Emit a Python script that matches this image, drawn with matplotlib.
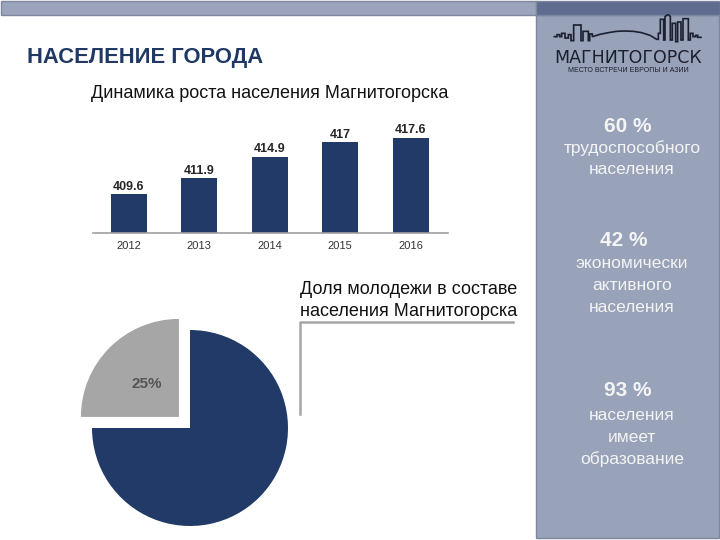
import matplotlib
matplotlib.use("Agg")
import matplotlib.pyplot as plt
from matplotlib.patches import Rectangle

plt.rcParams['font.family'] = ['Liberation Sans', 'DejaVu Sans']

# bar chart data
years = ['2012', '2013', '2014', '2015', '2016']
population = [409.6, 411.9, 414.9, 417, 417.6]

# pie data: youth share vs rest
youth_share = [25, 75]

# side panel stats
stat_values = ['60 %', '42 %', '93 %']
stat_labels = [['трудоспособного', 'населения'],
               ['экономически', 'активного', 'населения'],
               ['населения', 'имеет', 'образование']]

navy = '#213a67'
panel = '#98a2b8'
edge = '#7c869f'

fig = plt.figure(figsize=(7.2, 5.4), dpi=100)

# background layer in pixel coords
bg = fig.add_axes([0, 0, 1, 1])
bg.set_xlim(0, 720)
bg.set_ylim(540, 0)
bg.axis('off')

bg.add_patch(Rectangle((0.5, 0.5), 535, 14.5, fc='#9ba4ba', ec=edge, lw=1))
bg.add_patch(Rectangle((535.5, 15), 183, 523, fc=panel, ec=edge, lw=1))
bg.add_patch(Rectangle((535.5, 0.5), 184, 14.5, fc='#5f6c90', ec=edge, lw=1))

# logo skyline (local units, decoration)
sky = [(28, 80), (36, 80), (36, 74), (44, 74), (44, 80), (50, 80), (50, 70), (60, 70),
       (60, 84), (70, 84), (70, 74), (78, 74), (78, 92), (86, 92), (86, 45), (108, 45),
       (108, 92), (114, 92), (114, 64), (130, 64), (130, 92), (134, 92), (134, 72),
       (142, 72), (142, 80), (165, 73), (190, 68), (215, 64), (240, 63), (265, 64),
       (290, 68), (315, 76), (335, 88), (340, 88), (340, 70), (346, 70), (346, 28),
       (356, 28), (356, 90), (360, 90), (360, 20), (366, 15), (372, 15), (376, 20),
       (376, 90), (382, 90), (382, 40), (392, 40), (392, 95), (398, 95), (398, 36),
       (408, 36), (408, 90), (414, 90), (414, 26), (430, 26), (430, 90), (436, 90),
       (436, 70), (444, 70), (444, 80), (452, 80), (452, 76), (458, 76), (458, 82),
       (468, 82)]
bg.plot([545 + x / 3 for x, y in sky], [10 + y / 3 for x, y in sky],
        color='#1b1f2e', lw=1.2, solid_joinstyle='miter', zorder=5)
bg.text(628, 58, 'МАГНИТОГОРСК', ha='center', va='center', fontsize=12.5,
        family='DejaVu Sans', color='#1b1f2e')
bg.text(628, 71, 'МЕСТО ВСТРЕЧИ ЕВРОПЫ И АЗИИ', ha='center', va='center',
        fontsize=5, color='#1b1f2e')

# titles
bg.text(27, 57, 'НАСЕЛЕНИЕ ГОРОДА', ha='left', va='center', fontsize=15.8,
        fontweight='bold', color='#1f3864')
bg.text(270, 93, 'Динамика роста населения Магнитогорска', ha='center',
        va='center', fontsize=13, color='#111111')
bg.text(300, 289, 'Доля молодежи в составе', ha='left', va='center',
        fontsize=13, color='#111111')
bg.text(300, 311, 'населения Магнитогорска', ha='left', va='center',
        fontsize=13, color='#111111')
bg.plot([300, 300, 513], [414, 322, 322], color='#a6a6a6', lw=1.8)

# side panel stats
stat_y = [125, 240, 389]
stat_x = [628, 624, 628]
for val, lines, y0, x0 in zip(stat_values, stat_labels, stat_y, stat_x):
    bg.text(x0, y0 + 1, val, ha='center', va='center', fontsize=15,
            fontweight='bold', color='#f4f4f4')
    first = y0 + 23 if y0 < 300 else y0 + 26
    for i, ln in enumerate(lines):
        bg.text(632, first + 22 * i, ln, ha='center', va='center',
                fontsize=12.5, color='#f4f4f4')

# bar chart
ax = fig.add_axes([93 / 720, 1 - 233 / 540, 355 / 720, 115 / 540])
xs = range(len(years))
bars = ax.bar(xs, population, width=0.51, color=navy)
ax.set_xlim(-0.51, 4.53)
ax.set_ylim(404.1, 420.4)
for b, v in zip(bars, population):
    ax.annotate(f'{v:g}', (b.get_x() + b.get_width() / 2, v), xytext=(0, 1),
                textcoords='offset points', ha='center', va='bottom',
                fontsize=9, fontweight='bold', color='#262626')
ax.set_xticks(list(xs))
ax.set_xticklabels(years, fontsize=8, color='#333333')
ax.tick_params(axis='x', length=0, pad=6)
ax.set_yticks([])
for s in ['top', 'right', 'left']:
    ax.spines[s].set_visible(False)
ax.spines['bottom'].set_color('#a0a0a0')
ax.spines['bottom'].set_linewidth(1.2)
ax.patch.set_alpha(0)

# pie chart
r = 98
pax = fig.add_axes([(190 - 1.25 * r) / 720, 0, 2.5 * r / 720, (540 - 428 + 1.25 * r) / 540])
pax.pie(youth_share, colors=['#a6a6a6', navy], startangle=90, counterclock=True,
        explode=[0.16, 0], autopct=lambda p: f'{p:.0f}%' if p < 50 else '',
        pctdistance=0.47, textprops=dict(fontsize=11, fontweight='bold', color='#555555'))
pax.set_xlim(-1.25, 1.25)
pax.set_ylim(-(540 - 428) / r, 1.25)
pax.set_aspect('auto')
pax.axis('off')

fig.savefig('out.png', dpi=100)
